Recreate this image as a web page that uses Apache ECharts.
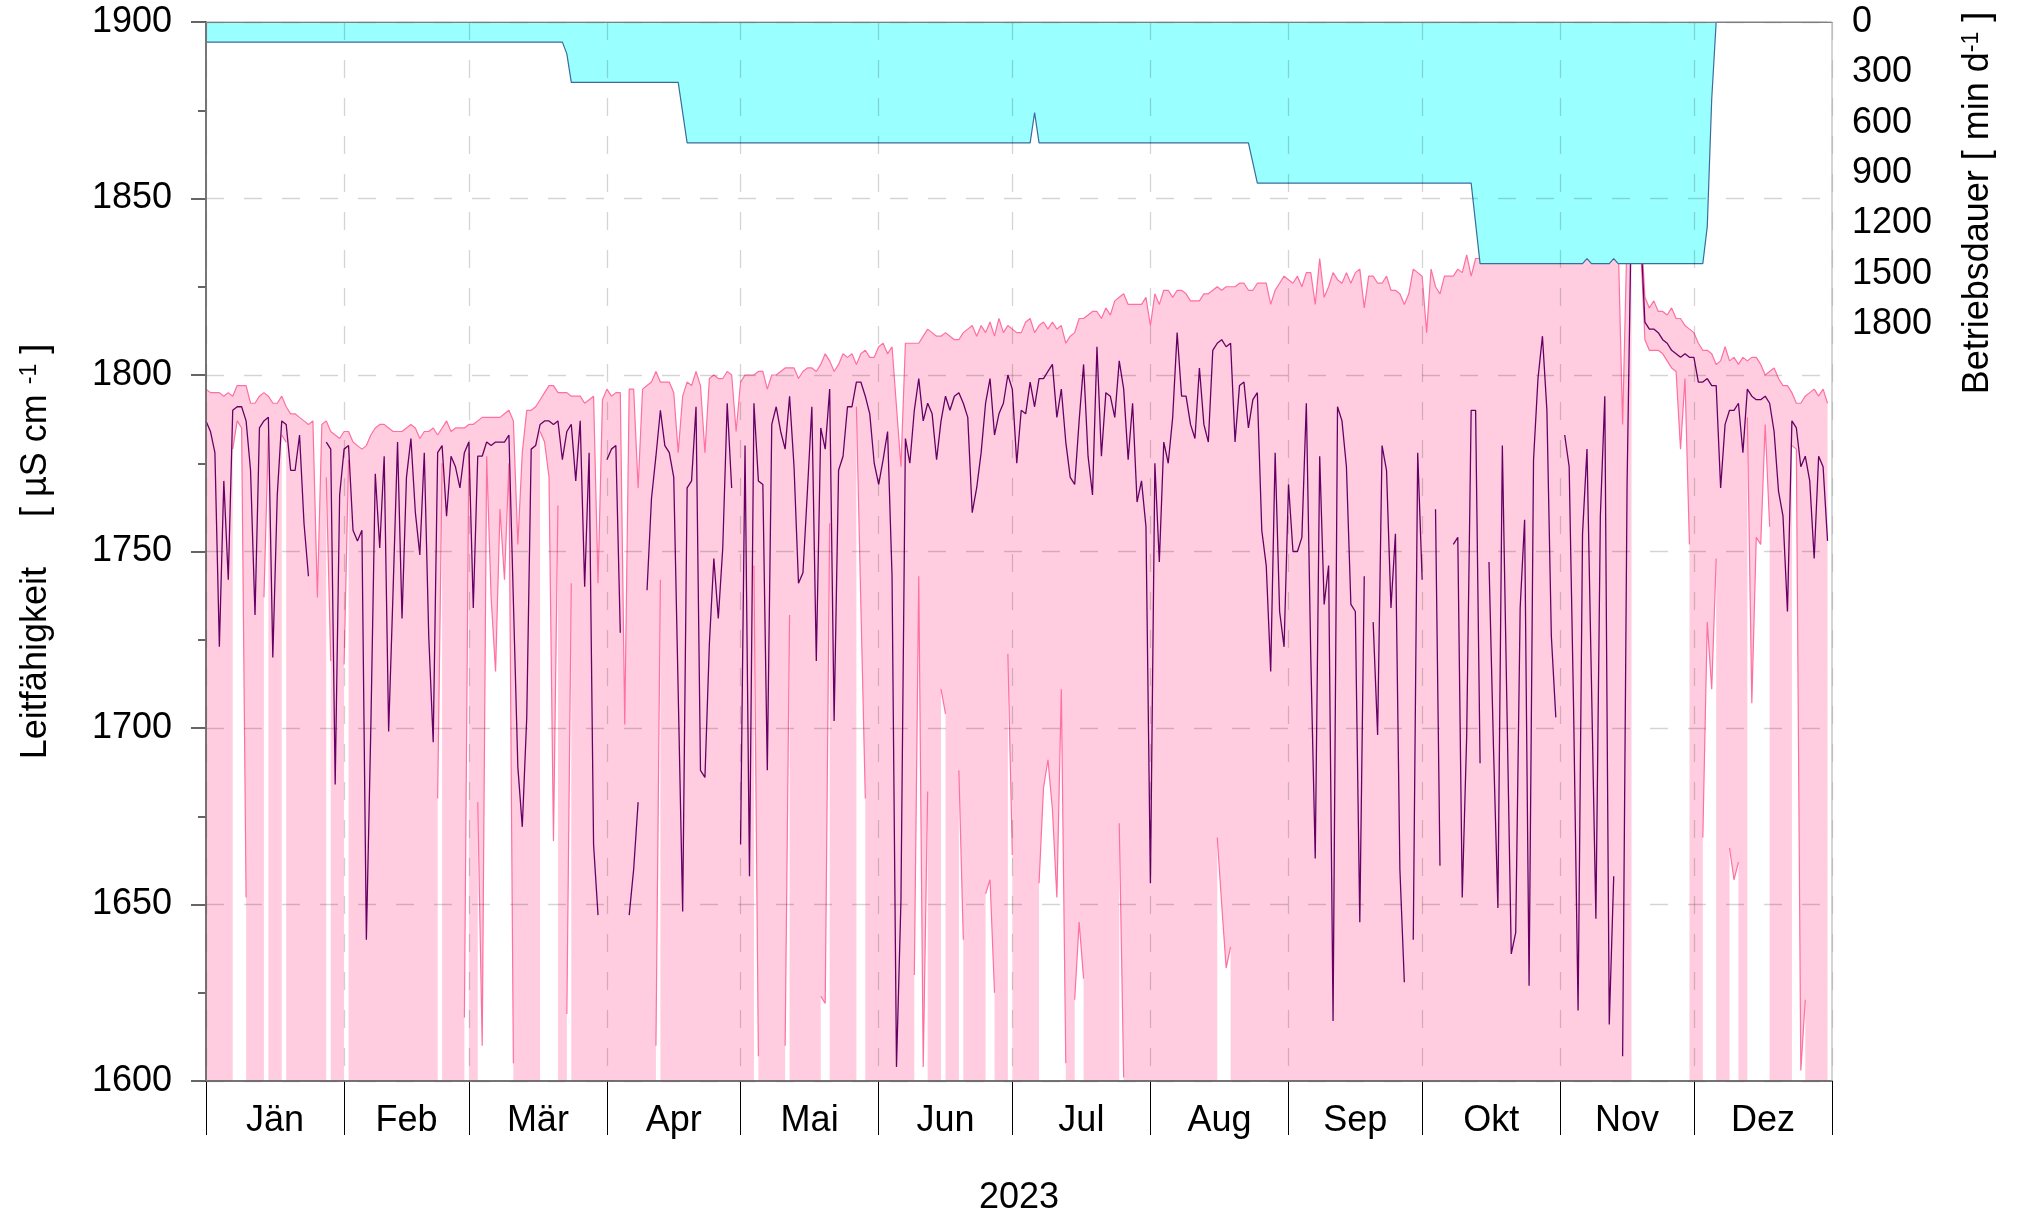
<!DOCTYPE html>
<html>
<head>
<meta charset="utf-8">
<script src="https://cdn.jsdelivr.net/npm/echarts@6/dist/echarts.min.js"></script>
<style>
html,body{margin:0;padding:0;background:#fff;}
#chart{width:2017px;height:1215px;}
</style>
</head>
<body>
<div id="chart"></div>
<script>
// Tagesmaximum der Leitfähigkeit (µS/cm), Tag 0 = 1. Jänner 2023
var maxVals = [
1796,1795,1795,1795,1794,1795,1794,1797,1797,1797,
1792,1792,1794,1795,1794,1792,1792,1794,1791,1789,
1789,1788,1787,1786,1787,1737,1786,1787,1784,1783,
1782,1784,1784,1781,1780,1779,1780,1783,1785,1786,
1786,1785,1784,1784,1784,1785,1786,1785,1782,1784,
1784,1785,1783,1785,1787,1784,1785,1785,1785,1786,
1786,1787,1788,1788,1788,1788,1788,1789,1790,1787,
1752,1778,1790,1790,1791,1793,1795,1797,1797,1795,
1795,1795,1794,1794,1794,1792,1793,1794,1741,1793,
1796,1794,1795,1795,1701,1796,1796,1768,1796,1797,
1798,1801,1798,1798,1798,1795,1778,1794,1798,1797,
1801,1797,1778,1799,1800,1799,1799,1801,1800,1784,
1798,1800,1800,1800,1801,1801,1796,1800,1800,1801,
1802,1802,1802,1799,1801,1802,1802,1801,1803,1806,
1804,1801,1803,1806,1805,1806,1803,1806,1807,1805,
1805,1808,1809,1806,1808,1791,1774,1809,1809,1809,
1809,1811,1813,1812,1811,1811,1812,1811,1810,1810,
1812,1813,1814,1811,1814,1812,1815,1811,1816,1812,
1814,1813,1812,1812,1815,1816,1812,1814,1815,1813,
1815,1813,1814,1809,1811,1812,1816,1816,1817,1818,
1818,1816,1819,1817,1821,1822,1823,1820,1820,1820,
1820,1822,1814,1823,1820,1824,1824,1822,1824,1824,
1823,1821,1821,1821,1823,1823,1824,1825,1824,1825,
1825,1825,1826,1826,1824,1824,1826,1826,1826,1820,
1824,1826,1828,1827,1826,1828,1825,1829,1829,1820,
1833,1822,1825,1829,1827,1826,1829,1826,1829,1830,
1819,1828,1828,1826,1826,1828,1824,1824,1823,1820,
1823,1830,1829,1828,1812,1830,1825,1823,1828,1828,
1828,1830,1829,1834,1828,1833,1833,1838,1840,1842,
1840,1843,1841,1840,1842,1844,1841,1840,1843,1845,
1842,1840,1841,1843,1840,1842,1844,1841,1840,1842,
1843,1841,1840,1842,1844,1841,1840,1838,1786,1840,
1860,1860,1845,1822,1819,1821,1818,1818,1817,1819,
1816,1816,1814,1813,1812,1809,1807,1807,1806,1803,
1804,1808,1804,1805,1803,1805,1804,1805,1805,1803,
1800,1801,1802,1799,1797,1797,1795,1792,1792,1794,
1795,1796,1794,1796,1792
];

// Tagesmittel
var meanVals = [
1787,1784,1778,1723,1770,1742,1790,1791,1791,1787,
1773,1732,1785,1787,1788,1720,1766,1787,1786,1773,
1773,1783,1758,1743,null,null,null,1781,1779,1684,
1766,1779,1780,1756,1753,1756,1640,1700,1772,1751,
1777,1699,1739,1781,1731,1771,1782,1761,1749,1778,
1726,1696,1778,1780,1760,1777,1774,1768,1778,1781,
1734,1777,1777,1781,1780,1781,1781,1781,1783,1736,
1689,1672,1703,1779,1780,1786,1787,1787,1786,1787,
1776,1784,1786,1770,1787,1740,1778,1667,1647,null,
1776,1779,1780,1727,null,1647,1660,1679,null,1739,
1765,1777,1790,1780,1778,1771,1710,1648,1768,1770,
1791,1688,1686,1724,1748,1731,1751,1792,1768,null,
1667,1780,1658,1792,1770,1769,1688,1786,1791,1784,
1779,1794,1774,1741,1744,1767,1791,1719,1785,1779,
1796,1702,1773,1777,1791,1791,1798,1798,1794,1789,
1775,1769,1776,1784,1743,1604,1651,1782,1775,1790,
1799,1787,1792,1789,1776,1787,1794,1790,1794,1795,
1792,1788,1761,1768,1778,1792,1799,1783,1789,1792,
1800,1796,1775,1790,1789,1798,1791,1799,1799,1801,
1803,1788,1796,1781,1771,1769,1787,1803,1777,1766,
1808,1777,1795,1794,1788,1804,1796,1776,1792,1764,
1770,1757,1656,1775,1747,1781,1775,1788,1812,1794,
1794,1786,1782,1802,1786,1781,1807,1809,1810,1808,
1809,1781,1797,1798,1785,1793,1795,1756,1746,1716,
1778,1733,1723,1769,1750,1750,1754,1792,1720,1663,
1777,1735,1746,1617,1791,1787,1774,1735,1733,1645,
1743,null,1730,1698,1780,1773,1734,1755,1660,1628,
null,1640,1778,1742,null,null,1762,1661,null,null,
1752,1754,1652,1698,1790,1790,1690,null,1747,1695,
1649,1780,1708,1636,1642,1734,1759,1627,1776,1799,
1811,1790,1726,1703,null,1783,1774,1705,1620,1755,
1779,1713,1646,1760,1794,1616,1658,null,1607,1769,
1850,1850,1842,1815,1813,1813,1812,1810,1809,1807,
1806,1805,1806,1805,1805,1798,1798,1799,1797,1797,
1768,1786,1790,1790,1792,1778,1796,1794,1793,1793,
1794,1792,1784,1767,1760,1733,1787,1785,1774,1777,
1770,1748,1777,1774,1753
];

// Tagesminimum, null = unter der Achse bzw. fehlend
var minVals = [
null,null,null,null,null,null,1779,1787,1785,1652,
null,null,null,1737,1783,null,null,1783,1781,null,
null,null,null,null,null,null,null,1771,1719,null,
null,1718,1776,null,null,null,null,null,null,null,
null,null,null,null,null,null,null,null,null,null,
null,null,1680,1775,null,null,null,null,1618,1778,
null,1679,1610,1777,1737,1716,1762,1742,1775,1605,
null,null,null,null,null,1784,1781,1771,1668,1763,
null,1619,1741,null,null,null,null,null,null,null,
null,null,null,null,null,null,null,null,null,null,
null,1610,1742,null,null,null,null,null,null,null,
null,null,null,null,null,null,null,null,null,null,
null,null,null,1746,1607,null,null,null,null,null,
1610,1732,null,null,null,null,null,null,1624,1622,
1758,null,null,null,null,null,1791,1735,1680,null,
null,null,null,null,null,null,null,null,null,1630,
1743,1604,1682,null,null,1711,1704,null,null,1688,
1640,null,null,null,null,1653,1657,1625,null,null,
1721,1664,null,null,null,null,null,1656,1683,1691,
1677,1652,1711,1605,null,1623,1645,1629,null,null,
null,null,null,null,null,1673,1601,null,null,null,
null,null,null,null,null,null,null,null,null,null,
null,null,null,null,null,null,null,1669,1650,1632,
1638,null,null,null,null,null,null,null,null,null,
null,null,null,null,null,null,null,null,null,null,
null,null,null,null,null,null,null,null,null,null,
null,null,null,null,null,null,null,null,null,null,
null,null,null,null,null,null,null,null,null,null,
null,null,null,null,null,null,null,null,null,null,
null,null,null,null,null,null,null,null,null,null,
null,null,null,null,null,null,null,null,null,null,
null,null,null,null,null,null,null,null,null,null,
1845,1845,1838,1810,1807,1807,1807,1806,1804,1802,
1801,1779,1799,1752,null,null,1669,1730,1711,1748,
null,null,1666,1657,1662,null,1788,1707,1754,1752,
1786,1757,null,null,null,null,1780,1779,1603,1623,
null,null,null,null,null
];

// Betriebsdauer min/d
var runVals = [
120,120,120,120,120,120,120,120,120,120,
120,120,120,120,120,120,120,120,120,120,
120,120,120,120,120,120,120,120,120,120,
120,120,120,120,120,120,120,120,120,120,
120,120,120,120,120,120,120,120,120,120,
120,120,120,120,120,120,120,120,120,120,
120,120,120,120,120,120,120,120,120,120,
120,120,120,120,120,120,120,120,120,120,
120,190,360,360,360,360,360,360,360,360,
360,360,360,360,360,360,360,360,360,360,
360,360,360,360,360,360,360,540,720,720,
720,720,720,720,720,720,720,720,720,720,
720,720,720,720,720,720,720,720,720,720,
720,720,720,720,720,720,720,720,720,720,
720,720,720,720,720,720,720,720,720,720,
720,720,720,720,720,720,720,720,720,720,
720,720,720,720,720,720,720,720,720,720,
720,720,720,720,720,720,720,720,720,720,
720,720,720,720,720,720,540,720,720,720,
720,720,720,720,720,720,720,720,720,720,
720,720,720,720,720,720,720,720,720,720,
720,720,720,720,720,720,720,720,720,720,
720,720,720,720,720,720,720,720,720,720,
720,720,720,720,720,840,960,960,960,960,
960,960,960,960,960,960,960,960,960,960,
960,960,960,960,960,960,960,960,960,960,
960,960,960,960,960,960,960,960,960,960,
960,960,960,960,960,960,960,960,960,960,
960,960,960,960,960,1200,1440,1440,1440,1440,
1440,1440,1440,1440,1440,1440,1440,1440,1440,1440,
1440,1440,1440,1440,1440,1440,1440,1440,1440,1440,
1410,1440,1440,1440,1440,1440,1410,1440,1440,1440,
1440,1440,1440,1440,1440,1440,1440,1440,1440,1440,
1440,1440,1440,1440,1440,1440,1440,1220,460,0,
0,0,0,0,0,0,0,0,0,0,
0,0,0,0,0,0,0,0,0,0,
0,0,0,0,0
];

var monthNames = ['Jän','Feb','Mär','Apr','Mai','Jun','Jul','Aug','Sep','Okt','Nov','Dez'];
var monthStarts = [0,31,59,90,120,151,181,212,243,273,304,334,365];
var monthMids = [15.5,45,74.5,105,135.5,166,196.5,227.5,258,288.5,319,349.5];
var condTicks = [1600,1650,1700,1750,1800,1850,1900];
var runTicks = [0,300,600,900,1200,1500,1800];

var fontFamily = 'Liberation Sans';
var fs = 36;
var pinkLine = '#ff6f9f';
var pinkFill = '#ffcddf';
var gridDash = { type: [18, 20], color: 'rgba(0,0,0,0.17)', width: 1.3 };

function toPairs(arr){
	return arr.map(function(v, i){ return [i, v]; });
}
// keine Tausendertrennzeichen
function plain(v){
	return String(v);
}

var myChart = echarts.init(document.getElementById('chart'));
var option = {
	animation: false,
	backgroundColor: '#fff',
	textStyle: { fontFamily: fontFamily, color: '#000' },
	grid: [
		{ left: 206, top: 22, width: 1626, height: 1059, show: true, borderColor: '#aaa', borderWidth: 1, z: 6, containLabel: false, outerBoundsMode: 'none' },
		{ left: 206, top: 22, width: 1626, height: 302, containLabel: false, outerBoundsMode: 'none' }
	],
	xAxis: [
		{
			gridIndex: 0, type: 'value', min: 0, max: 365, z: 5,
			axisLine: { show: true, lineStyle: { color: '#000', width: 1.5 } },
			axisTick: { show: true, customValues: monthStarts, length: 54, lineStyle: { color: '#000' } },
			axisLabel: {
				customValues: monthMids, margin: 22, fontSize: fs, color: '#000',
				formatter: function(v){
					var i = monthMids.indexOf(v);
					return i >= 0 ? monthNames[i] : '';
				}
			},
			splitLine: { show: true, lineStyle: gridDash },
			name: '2023', nameLocation: 'middle', nameGap: 99,
			nameTextStyle: { fontSize: fs, color: '#000' }
		},
		{
			gridIndex: 1, type: 'value', min: 0, max: 365, position: 'top', z: 5,
			axisLine: { show: true, lineStyle: { color: '#555' } },
			axisTick: { show: false }, axisLabel: { show: false }, splitLine: { show: false }
		}
	],
	yAxis: [
		{
			gridIndex: 0, type: 'value', min: condTicks[0], max: condTicks[condTicks.length - 1], interval: 50, z: 5,
			axisLine: { show: true, lineStyle: { color: '#000', width: 1.5 } },
			axisTick: { show: true, length: 15, lineStyle: { color: '#333', width: 1.5 } },
			minorTick: { show: true, splitNumber: 2, length: 8, lineStyle: { color: '#333', width: 1.5 } },
			axisLabel: { margin: 34, fontSize: fs, color: '#000', formatter: plain },
			splitLine: { show: true, lineStyle: gridDash },
			name: 'Leitfähigkeit     [ µS cm {sup|-1} ]', nameLocation: 'middle', nameGap: 152, nameRotate: 90,
			nameTextStyle: { fontSize: fs, color: '#000', rich: { sup: { fontSize: 23, verticalAlign: 'top' } } }
		},
		{
			gridIndex: 1, type: 'value', min: runTicks[0], max: runTicks[runTicks.length - 1], interval: 300,
			inverse: true, position: 'right', z: 5,
			axisLine: { show: true, lineStyle: { color: '#444' } },
			axisTick: { show: false },
			axisLabel: { margin: 20, fontSize: fs, color: '#000', formatter: plain },
			splitLine: { show: false },
			name: 'Betriebsdauer [ min d{sup|-1} ]', nameLocation: 'middle', nameGap: 128, nameRotate: 90,
			nameTextStyle: { fontSize: fs, color: '#000', padding: [0, 60, 0, 0], rich: { sup: { fontSize: 23, verticalAlign: 'top' } } }
		}
	],
	series: [
		{
			name: 'Maximum', type: 'line', xAxisIndex: 0, yAxisIndex: 0,
			data: toPairs(maxVals), showSymbol: false, z: 2,
			lineStyle: { color: pinkLine, width: 1.2 },
			areaStyle: { color: pinkFill, origin: 'start', opacity: 1 }
		},
		{
			name: 'Minimum', type: 'line', xAxisIndex: 0, yAxisIndex: 0,
			data: toPairs(minVals), showSymbol: false, connectNulls: false, z: 2,
			lineStyle: { color: pinkLine, width: 1.2 },
			areaStyle: { color: '#fff', origin: 'start', opacity: 1 }
		},
		{
			name: 'Mittel', type: 'line', xAxisIndex: 0, yAxisIndex: 0,
			data: toPairs(meanVals), showSymbol: false, connectNulls: false, z: 3,
			lineStyle: { color: '#660066', width: 1.3 }
		},
		{
			name: 'Betriebsdauer', type: 'line', xAxisIndex: 1, yAxisIndex: 1,
			data: toPairs(runVals), showSymbol: false, z: 4,
			lineStyle: { color: '#3a6c9c', width: 1.2 },
			areaStyle: { color: '#99ffff', origin: 'start', opacity: 1 }
		}
	]
};
myChart.setOption(option);
</script>
</body>
</html>
